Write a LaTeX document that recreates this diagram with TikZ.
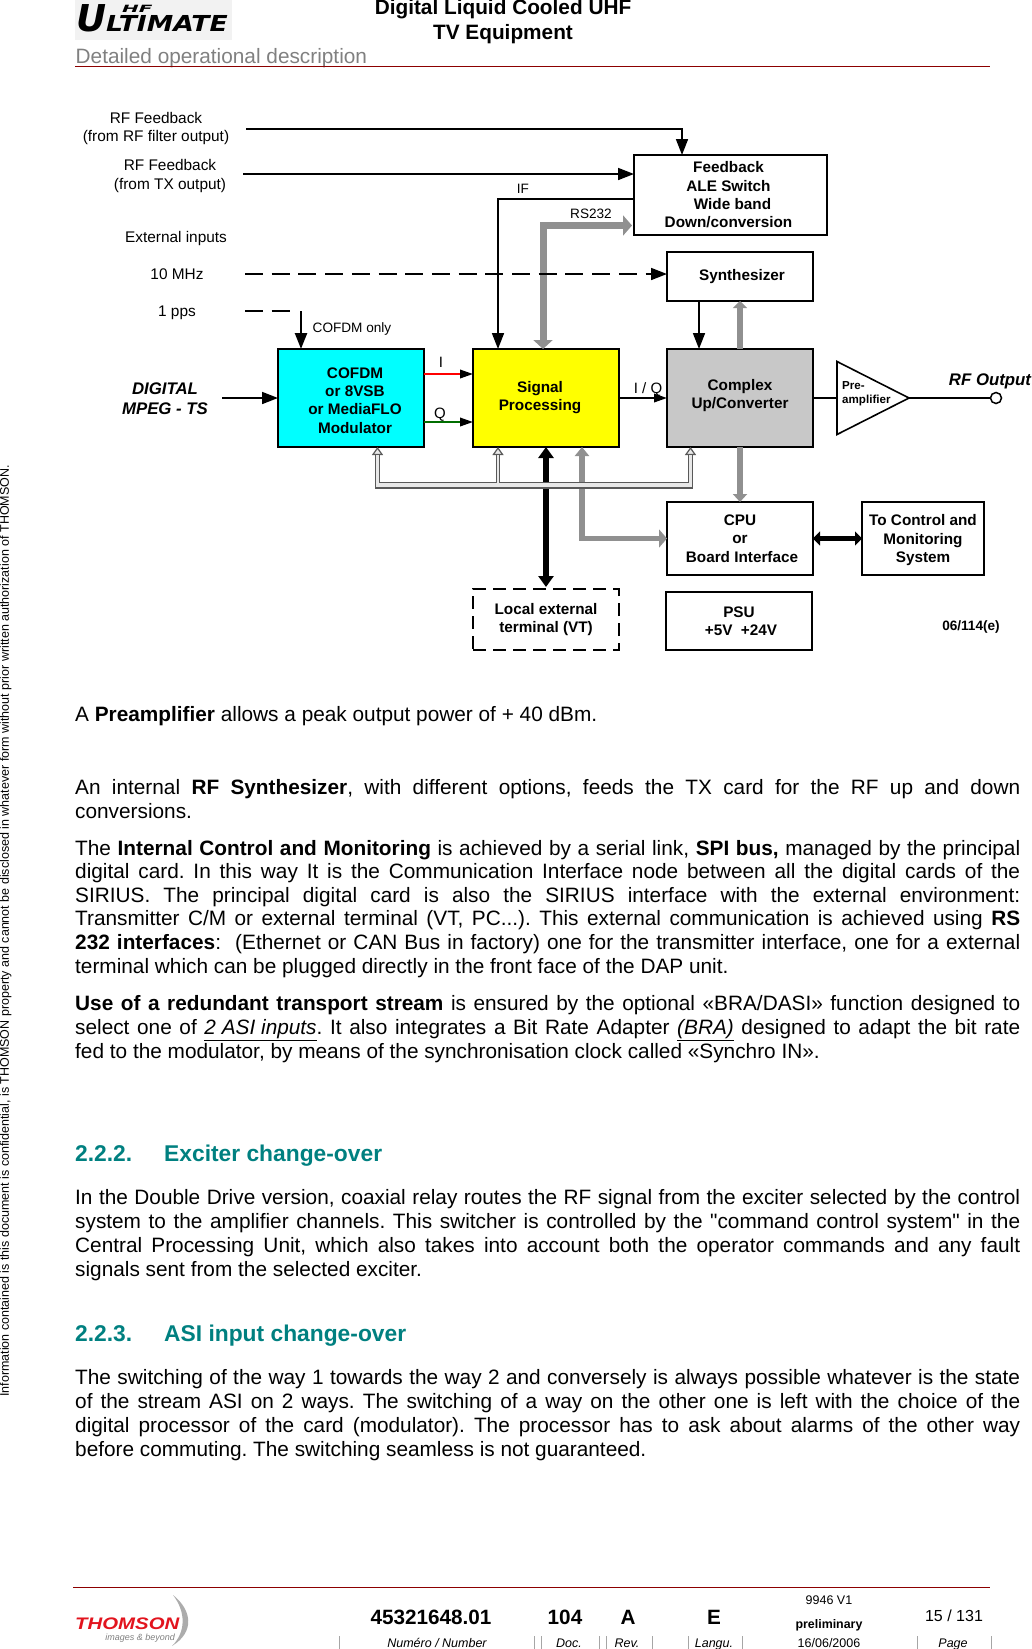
\documentclass[tikz,border=0pt]{standalone}
\usepackage{fontspec}
\setmainfont{Liberation Sans}[Ligatures=TeXOff]
\newfontfamily\logofont{DejaVu Sans}
\usetikzlibrary{arrows.meta,positioning,calc,shapes.geometric}
\definecolor{boxcyan}{RGB}{0,255,255}
\definecolor{boxyellow}{RGB}{255,255,0}
\definecolor{boxgray}{RGB}{200,200,200}
\definecolor{pipegray}{RGB}{144,144,144}
\definecolor{busedge}{RGB}{89,89,89}
\definecolor{busfill}{RGB}{232,232,232}
\definecolor{rulered}{RGB}{140,0,0}
\definecolor{headteal}{RGB}{0,128,128}
\definecolor{titlegray}{RGB}{128,128,128}
\definecolor{logoback}{RGB}{242,242,242}
\definecolor{thomsonred}{RGB}{226,20,30}
\definecolor{sigq}{RGB}{0,110,0}
\newcommand{\pxfont}[2]{\fontsize{#1pt}{#2pt}\selectfont}
\newcommand{\boxlines}[1]{\begin{tabular}{@{}c@{}}#1\end{tabular}}
\frenchspacing
\begin{document}
\begin{tikzpicture}[
    x=1pt, y=-1pt,
    box/.style={rectangle, draw, line width=1.8pt, inner sep=0pt, outer sep=0pt, align=center, minimum width=146pt, font=\pxfont{15.3}{18.4}\bfseries},
    lbl/.style={inner sep=0pt, anchor=base, align=center, font=\pxfont{15.4}{18.5}},
    tiny/.style={inner sep=0pt, anchor=base, font=\pxfont{13.6}{16}},
    sig/.style={inner sep=0pt, anchor=base, font=\pxfont{15}{18}},
    rfname/.style={inner sep=0pt, anchor=base, align=center, font=\pxfont{16.8}{20}\bfseries\itshape},
    arrow/.style={-{Triangle[length=16pt,width=12pt]}, line width=1.7pt},
    smallarrow/.style={-{Triangle[length=13pt,width=8.5pt,color=black]}, line width=2pt},
    dashline/.style={line width=1.7pt, dash pattern=on 18pt off 8.7pt},
    pipe/.style={color=pipegray, line width=5.5pt},
    thick pipe/.style={color=black, line width=5.5pt},
    busout/.style={color=busedge, line width=4.6pt},
    busin/.style={color=busfill, line width=2.2pt, shorten >=7.5pt},
    para/.style={inner sep=0pt, anchor=base west, text width=945pt, align=justify, font=\pxfont{20.8}{24}\sloppy},
    heading/.style={inner sep=0pt, anchor=base west, text=headteal, font=\pxfont{22.8}{26}\bfseries},
    foot/.style={inner sep=0pt, anchor=base, font=\pxfont{12.5}{15}},
    footbig/.style={inner sep=0pt, anchor=base, font=\pxfont{20.7}{24}\bfseries},
    tick/.style={color=gray!70, line width=0.8pt}
]
    \useasboundingbox (0,0) rectangle (1032,1649);

    % Page head
    \fill[logoback] (75,0) rectangle (232,40);
    \node[inner sep=0pt, anchor=base west, font=\logofont\bfseries\itshape] (logo) at (76,31) {\pxfont{37}{37}U\rlap{\raisebox{19pt}{\hspace*{16pt}\pxfont{10}{10}\scalebox{2}[1]{HF}}}\pxfont{22}{22}\scalebox{1.21}[1]{LTIMATE}};
    \node[inner sep=0pt, anchor=base, font=\pxfont{20.8}{24}\bfseries] (doctitle) at (503,14) {Digital Liquid Cooled UHF};
    \node[inner sep=0pt, anchor=base, font=\pxfont{20.8}{24}\bfseries] (docsub) at (503,39) {TV Equipment};
    \node[inner sep=0pt, anchor=base west, text=titlegray, font=\pxfont{20.8}{24}] (chapter) at (75.5,63) {Detailed operational description};
    \draw[rulered, line width=1pt] (75,66.5) -- (990,66.5);
    \node[rotate=90, inner sep=0pt, anchor=base west, font=\pxfont{12.5}{14}] (notice) at (9,1397) {Information contained is this document is confidential, is THOMSON property and cannot be disclosed in whatever form without prior written authorization of THOMSON.};

    % Blocks
    \node[box, fill=boxyellow, minimum height=98pt] (sigp) at (546,398) {\boxlines{Signal\\Processing}\hspace*{12pt}};
    \node[box, fill=boxcyan, minimum height=98pt, left=49pt of sigp] (cofdm) {\hspace*{8pt}\boxlines{\rule{0pt}{20.9pt}COFDM\\or 8VSB\\or MediaFLO\\Modulator}};
    \node[box, fill=boxgray, minimum height=98pt, right=48pt of sigp] (cplx) {\boxlines{Complex\\Up/Converter\rule[-9.5pt]{0pt}{0pt}}};
    \node[box, minimum height=49pt, above=48pt of cplx] (synth) {\hspace*{4pt}Synthesizer};
    \node[box, minimum width=193pt, minimum height=80pt] (feedback) at (730.5,195) {\boxlines{\rule{0pt}{16pt}Feedback\\ALE Switch\\\hspace*{8pt}Wide band\\Down/conversion}\hspace*{4pt}};
    \node[box, minimum height=73pt, below=55pt of cplx] (cpu) {CPU\\or\\\hspace*{4pt}Board Interface};
    \node[box, minimum width=122pt, minimum height=73pt, right=49pt of cpu] (ctrl) {\boxlines{\rule{0pt}{16.9pt}To Control and\\Monitoring\\System}};
    \node[box, minimum height=58pt] (psu) at (739,621) {PSU\\\hspace*{4pt}+5V\ \ +24V};
    \node[box, minimum height=61pt, dash pattern=on 13pt off 7pt] (vt) at (546,619.5) {Local external\\terminal (VT)};

    % Preamplifier and output
    \node[isosceles triangle, isosceles triangle stretches, draw, line width=1.6pt, inner sep=0pt, outer sep=0pt, minimum width=73pt, minimum height=72pt, anchor=lower side] (preamp) at (837,398) {};
    \node[inner sep=0pt, anchor=base west, align=left, font=\pxfont{11.6}{14}\bfseries] (preamptxt) at (842,403) {Pre-\\amplifier};
    \node[circle, draw, line width=1.5pt, fill=white, inner sep=0pt, outer sep=0pt, minimum size=11pt] (rfout) at (996,398) {};
    \node[rfname] (rfoutlbl) at (990,385) {RF Output};

    % Free ends
    \coordinate (rfa) at (246,129);
    \coordinate (rfb) at (243,174);
    \coordinate (fbtop) at (682,155);
    \coordinate (ifout) at (634,199);
    \coordinate (ifin) at (498,349);
    \coordinate (rsin) at (543,349);
    \coordinate (rsout) at (632,225.5);
    \coordinate (tenmhz) at (245,274);
    \coordinate (ppsa) at (245,311);
    \coordinate (ppsb) at (291,311);
    \coordinate (ppsc) at (301,311);
    \coordinate (tsin) at (222,398);
    \coordinate (busl) at (377.5,485);
    \coordinate (busm) at (498,485);
    \coordinate (busr) at (690.5,485);

    % Input labels
    \node[lbl] (lblrfa) at (156,141.5) {RF Feedback\\(from RF filter output)};
    \node[lbl] (lblrfb) at (170,189) {RF Feedback\\(from TX output)};
    \node[lbl] (lblext) at (176,242) {External inputs};
    \node[lbl] (lblten) at (177,279) {10 MHz};
    \node[lbl] (lblpps) at (177,316) {1 pps};
    \node[rfname] (lblts) at (165,414) {DIGITAL\\MPEG - TS};
    \node[tiny] (lblcofdm) at (352,332) {COFDM only};
    \node[tiny] (lblif) at (523,193) {IF};
    \node[tiny] (lblrs) at (591,218) {RS232};
    \node[sig] (lbli) at (441,367) {I};
    \node[sig] (lblq) at (440,418) {Q};
    \node[sig] (lbliq) at (648,393) {I / Q};
    \node[inner sep=0pt, anchor=base, font=\pxfont{13.6}{16}\bfseries] (refno) at (971,630) {06/114(e)};

    % Pipes under the bus
    \draw[pipe, line width=7pt, {Triangle[length=9pt,width=19pt]}-{Triangle[length=9pt,width=20pt]}] (rsin) |- (rsout);
    \draw[pipe, -{Triangle[length=7pt,width=14pt]}] (cplx.north) -- (synth.south);
    \draw[pipe, -{Triangle[length=8pt,width=14pt]}] (cplx.south) -- (cpu.north);
    \draw[pipe, {Triangle[length=9pt,width=14pt]}-{Triangle[length=8pt,width=18pt]}] ([xshift=36pt]sigp.south) |- (cpu.west);
    \draw[thick pipe, {Triangle[length=11pt,width=15pt]}-{Triangle[length=11pt,width=15pt]}, shorten >=2pt] (sigp.south) -- (vt.north);
    \draw[line width=4.5pt, {Triangle[length=7pt,width=14pt]}-{Triangle[length=7pt,width=14pt]}] (cpu.east) -- (ctrl.west);

    % Bus
    \draw[busedge, line width=7pt, shorten <=-2.3pt, shorten >=-2.3pt] (busl) -- (busr);
    \draw[busout, -{Triangle[length=8pt,width=11pt,fill=busfill,line width=1.2pt]}] (busl) -- (busl |- cofdm.south);
    \draw[busout, -{Triangle[length=8pt,width=11pt,fill=busfill,line width=1.2pt]}] (busm) -- (busm |- sigp.south);
    \draw[busout, -{Triangle[length=8pt,width=11pt,fill=busfill,line width=1.2pt]}] (busr) -- (busr |- cplx.south);
    \draw[busfill, line width=4.4pt, shorten <=-1.1pt, shorten >=-1.1pt] (busl) -- (busr);
    \draw[busin] (busl) -- (busl |- cofdm.south);
    \draw[busin] (busm) -- (busm |- sigp.south);
    \draw[busin] (busr) -- (busr |- cplx.south);

    % Edges
    \draw[arrow] (rfa) -| (fbtop);
    \draw[arrow] (rfb) -- (rfb -| feedback.west);
    \draw[arrow] (ifout) -| (ifin);
    \draw[arrow, dashline] (tenmhz) -- (tenmhz -| synth.west);
    \draw[dashline] (ppsa) -- (ppsb);
    \draw[arrow, line width=2.4pt] (ppsc) -- (ppsc |- cofdm.north);
    \draw[arrow] (tsin) -- (cofdm.west);
    \draw[smallarrow, red] ([yshift=24pt]cofdm.east) -- ([yshift=24pt]sigp.west);
    \draw[smallarrow, sigq] ([yshift=-24pt]cofdm.east) -- ([yshift=-24pt]sigp.west);
    \draw[smallarrow] (sigp.east) -- (cplx.west);
    \draw[arrow] ([xshift=-41pt]synth.south) -- ([xshift=-41pt]cplx.north);
    \draw[line width=1.7pt] (cplx.east) -- (preamp.lower side);
    \draw[line width=1.7pt] (preamp.apex) -- (rfout);

    % Text of the page
    \node[para] (preamppar) at (75,721) {A \textbf{Preamplifier} allows a peak output power of + 40 dBm.};
    \node[para] (synthpar) at (75,794) {An internal \textbf{RF Synthesizer}, with different options, feeds the TX card for the RF up and down\linebreak conversions.};
    \node[para, font=\pxfont{20.8}{23.6}\sloppy] (ctrlpar) at (75,855) {The \textbf{Internal Control and Monitoring} is achieved by a serial link, \textbf{SPI bus,} managed by the principal\linebreak digital card. In this way It is the Communication Interface node between all the digital cards of the\linebreak SIRIUS. The principal digital card is also the SIRIUS interface with the external environment:\linebreak Transmitter C/M or external terminal (VT, PC...). This external communication is achieved using \textbf{RS}\linebreak \textbf{232 interfaces}:\ \ (Ethernet or CAN Bus in factory) one for the transmitter interface, one for a external\linebreak terminal which can be plugged directly in the front face of the DAP unit.};
    \node[para] (streampar) at (75,1010.5) {\textbf{Use of a redundant transport stream} is ensured by the optional «BRA/DASI» function designed to\linebreak select one of \underline{\textit{2 ASI inputs}}. It also integrates a Bit Rate Adapter \underline{\textit{(BRA)}} designed to adapt the bit rate\linebreak fed to the modulator, by means of the synchronisation clock called «Synchro IN».};
    \node[heading] (headex) at (75,1161) {2.2.2.};
    \node[heading] (headextxt) at (164,1161) {Exciter change-over};
    \node[para] (exciterpar) at (75,1204) {In the Double Drive version, coaxial relay routes the RF signal from the exciter selected by the control\linebreak system to the amplifier channels. This switcher is controlled by the "command control system" in the\linebreak Central Processing Unit, which also takes into account both the operator commands and any fault\linebreak signals sent from the selected exciter.};
    \node[heading] (headasi) at (75,1341) {2.2.3.};
    \node[heading] (headasitxt) at (164,1341) {ASI input change-over};
    \node[para] (asipar) at (75,1384) {The switching of the way 1 towards the way 2 and conversely is always possible whatever is the state\linebreak of the stream ASI on 2 ways. The switching of a way on the other one is left with the choice of the\linebreak digital processor of the card (modulator). The processor has to ask about alarms of the other way\linebreak before commuting. The switching seamless is not guaranteed.};

    % Page foot
    \draw[rulered, line width=1pt] (73,1587) -- (990,1587);
    \node[inner sep=0pt, anchor=base west, text=thomsonred, font=\pxfont{16.7}{18}\bfseries\itshape] (thomson) at (75,1629) {\scalebox{1.22}[1]{THOMSON}};
    \node[inner sep=0pt, anchor=base east, text=gray, font=\pxfont{9}{11}\itshape] (beyond) at (175,1640) {images \& beyond};
    \fill[gray!65] (173,1595) .. controls (192,1610) and (195,1632) .. (172,1646) .. controls (186,1632) and (186,1612) .. cycle;
    \node[footbig] (docno) at (431,1624) {45321648.01};
    \node[footbig] (docdoc) at (565,1624) {104};
    \node[footbig] (docrev) at (628,1624) {A};
    \node[footbig] (doclang) at (714,1624) {E};
    \node[foot] (docver) at (829,1604) {9946 V1};
    \node[foot, font=\pxfont{12.4}{15}\bfseries] (docstate) at (829,1628) {preliminary};
    \node[inner sep=0pt, anchor=base, font=\pxfont{16}{18}] (docpage) at (954,1621) {15 / 131};
    \node[foot, font=\pxfont{12.5}{15}\itshape] (capno) at (437,1647) {Numéro / Number};
    \node[foot, font=\pxfont{12.5}{15}\itshape] (capdoc) at (569,1647) {Doc.};
    \node[foot, font=\pxfont{12.5}{15}\itshape] (caprev) at (627,1647) {Rev.};
    \node[foot, font=\pxfont{12.5}{15}\itshape] (caplang) at (714,1647) {Langu.};
    \node[foot] (capdate) at (829,1647) {16/06/2006};
    \node[foot, font=\pxfont{12.5}{15}\itshape] (cappage) at (953,1647) {Page};
    \draw[tick] (339,1636) -- (339,1649);
    \draw[tick] (534,1636) -- (534,1649);
    \draw[tick] (541,1636) -- (541,1649);
    \draw[tick] (599,1636) -- (599,1649);
    \draw[tick] (606,1636) -- (606,1649);
    \draw[tick] (652,1636) -- (652,1649);
    \draw[tick] (688,1636) -- (688,1649);
    \draw[tick] (742,1636) -- (742,1649);
    \draw[tick] (917,1636) -- (917,1649);
    \draw[tick] (991,1636) -- (991,1649);
\end{tikzpicture}
\end{document}
